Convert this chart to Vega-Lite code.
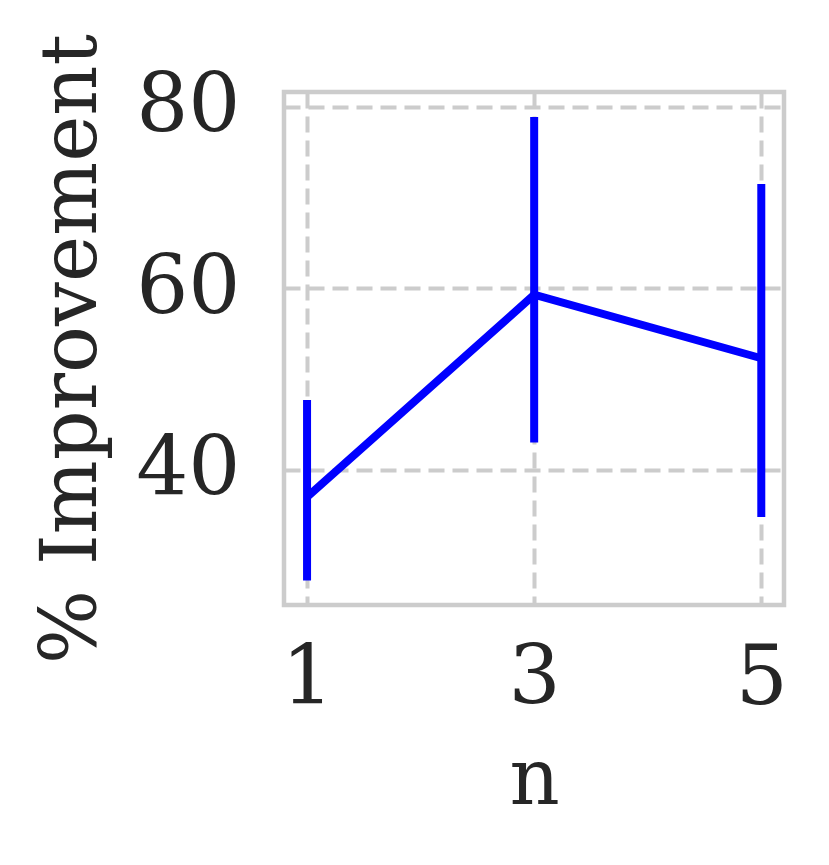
{
  "$schema": "https://vega.github.io/schema/vega-lite/v6.json",
  "autosize": {"type": "none"},
  "padding": {"left": 284, "top": 92, "right": 45, "bottom": 260},
  "width": 500,
  "height": 513,
  "background": "white",
  "config": {
    "view": {"stroke": "#cccccc", "strokeWidth": 4.5},
    "font": "DejaVu Serif",
    "axis": {
      "grid": true,
      "gridColor": "#cccccc",
      "gridDash": [16, 8],
      "gridWidth": 4,
      "domain": false,
      "ticks": false,
      "labelFont": "DejaVu Serif",
      "titleFont": "DejaVu Serif",
      "labelFontSize": 82,
      "titleFontSize": 78,
      "labelColor": "#262626",
      "titleColor": "#262626",
      "titleFontWeight": "normal"
    }
  },
  "data": {
    "values": [
      {"n": 1, "mean": 37.0, "lo": 27.8, "hi": 47.7},
      {"n": 3, "mean": 59.3, "lo": 43.0, "hi": 78.9},
      {"n": 5, "mean": 52.3, "lo": 34.8, "hi": 71.5}
    ]
  },
  "encoding": {
    "x": {
      "field": "n", "type": "quantitative",
      "scale": {"domain": [0.797, 5.2], "nice": false, "zero": false},
      "axis": {"values": [1, 3, 5], "title": "n", "labelPadding": 33, "titlePadding": 22}
    }
  },
  "layer": [
    {
      "mark": {"type": "rule", "color": "#0000ff", "strokeWidth": 8},
      "encoding": {
        "y": {"field": "lo", "type": "quantitative"},
        "y2": {"field": "hi"}
      }
    },
    {
      "mark": {"type": "line", "color": "#0000ff", "strokeWidth": 8},
      "encoding": {
        "y": {
          "field": "mean", "type": "quantitative",
          "scale": {"domain": [25.1, 81.65], "nice": false, "zero": false},
          "axis": {"values": [40, 60, 80], "title": "% Improvement", "labelPadding": 44, "titlePadding": 24}
        }
      }
    }
  ]
}
